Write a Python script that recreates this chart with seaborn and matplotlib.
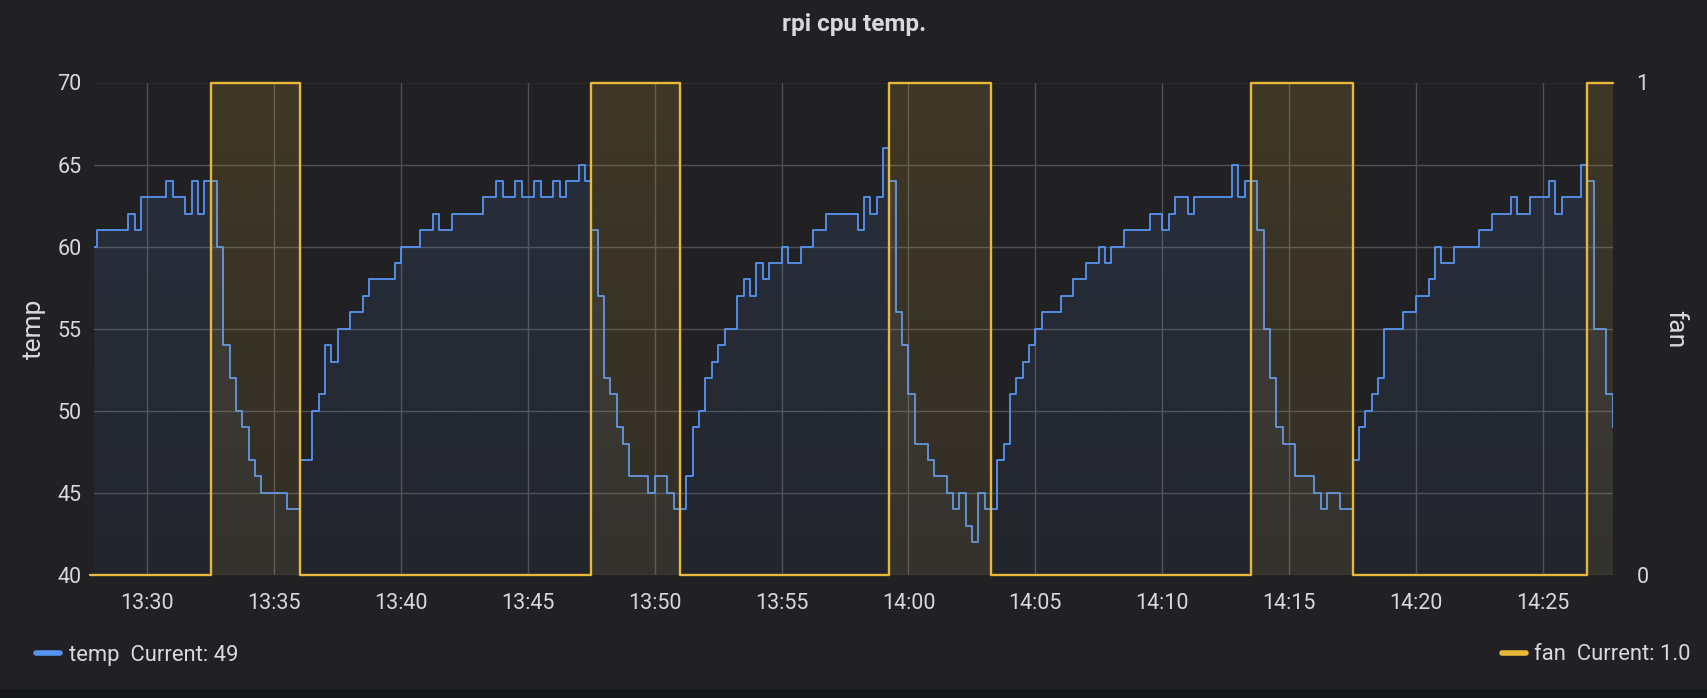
import matplotlib
matplotlib.use("Agg")
import matplotlib.pyplot as plt
import matplotlib.dates as mdates
from matplotlib.colors import to_rgb
from matplotlib.lines import Line2D
from matplotlib.patches import Rectangle
import seaborn as sns
import pandas as pd
import numpy as np

day = "2020-01-01 "

# temp: time of each change (15 s samples) and the value from that time on
temp_times = [
    "13:27:45", "13:28:00", "13:29:15", "13:29:30", "13:29:45", "13:30:45", "13:31:00", "13:31:30",
    "13:31:45", "13:32:00", "13:32:15", "13:32:45", "13:33:00", "13:33:15", "13:33:30", "13:33:45",
    "13:34:00", "13:34:15", "13:34:30", "13:35:30", "13:36:00", "13:36:30", "13:36:45", "13:37:00",
    "13:37:15", "13:37:30", "13:38:00", "13:38:30", "13:38:45", "13:39:45", "13:40:00", "13:40:45",
    "13:41:15", "13:41:30", "13:42:00", "13:43:15", "13:43:45", "13:44:00", "13:44:30", "13:44:45",
    "13:45:15", "13:45:30", "13:46:00", "13:46:15", "13:46:30", "13:47:00", "13:47:15", "13:47:30",
    "13:47:45", "13:48:00", "13:48:15", "13:48:30", "13:48:45", "13:49:00", "13:49:45", "13:50:00",
    "13:50:30", "13:50:45", "13:51:15", "13:51:30", "13:51:45", "13:52:00", "13:52:15", "13:52:30",
    "13:52:45", "13:53:15", "13:53:30", "13:53:45", "13:54:00", "13:54:15", "13:54:30", "13:55:00",
    "13:55:15", "13:55:45", "13:56:15", "13:56:45", "13:58:00", "13:58:15", "13:58:30", "13:58:45",
    "13:59:00", "13:59:15", "13:59:30", "13:59:45", "14:00:00", "14:00:15", "14:00:45", "14:01:00",
    "14:01:30", "14:01:45", "14:02:00", "14:02:15", "14:02:30", "14:02:45", "14:03:00", "14:03:30",
    "14:03:45", "14:04:00", "14:04:15", "14:04:30", "14:04:45", "14:05:00", "14:05:15", "14:06:00",
    "14:06:30", "14:07:00", "14:07:30", "14:07:45", "14:08:00", "14:08:30", "14:09:30", "14:10:00",
    "14:10:15", "14:10:30", "14:11:00", "14:11:15", "14:12:45", "14:13:00", "14:13:15", "14:13:45",
    "14:14:00", "14:14:15", "14:14:30", "14:14:45", "14:15:15", "14:16:00", "14:16:15", "14:16:30",
    "14:17:00", "14:17:30", "14:17:45", "14:18:00", "14:18:15", "14:18:30", "14:18:45", "14:19:30",
    "14:20:00", "14:20:30", "14:20:45", "14:21:00", "14:21:30", "14:22:30", "14:23:00", "14:23:45",
    "14:24:00", "14:24:30", "14:25:15", "14:25:30", "14:25:45", "14:26:30", "14:26:45", "14:27:00",
    "14:27:30", "14:27:45",
]
temp_values = [
    60, 61, 62, 61, 63, 64, 63, 62,
    64, 62, 64, 60, 54, 52, 50, 49,
    47, 46, 45, 44, 47, 50, 51, 54,
    53, 55, 56, 57, 58, 59, 60, 61,
    62, 61, 62, 63, 64, 63, 64, 63,
    64, 63, 64, 63, 64, 65, 64, 61,
    57, 52, 51, 49, 48, 46, 45, 46,
    45, 44, 46, 49, 50, 52, 53, 54,
    55, 57, 58, 57, 59, 58, 59, 60,
    59, 60, 61, 62, 61, 63, 62, 63,
    66, 64, 56, 54, 51, 48, 47, 46,
    45, 44, 45, 43, 42, 45, 44, 47,
    48, 51, 52, 53, 54, 55, 56, 57,
    58, 59, 60, 59, 60, 61, 62, 61,
    62, 63, 62, 63, 65, 63, 64, 61,
    55, 52, 49, 48, 46, 45, 44, 45,
    44, 47, 49, 50, 51, 52, 55, 56,
    57, 58, 60, 59, 60, 61, 62, 63,
    62, 63, 64, 62, 63, 65, 64, 55,
    51, 49,
]

# fan on/off switches
fan_times = ["13:27:45", "13:32:30", "13:36:00", "13:47:30", "13:51:00", "13:59:15",
             "14:03:15", "14:13:30", "14:17:30", "14:26:45", "14:27:45"]
fan_values = [0, 1, 0, 1, 0, 1, 0, 1, 0, 1, 1]

x_start = "13:27:54"
x_end = "14:27:46"
temp_ticks = [40, 45, 50, 55, 60, 65, 70]
fan_ticks = [0, 1]

BG = "#212124"
TEXT = "#d8d9da"
GRID = "#505053"
BLUE = "#5794f2"
YELLOW = "#eab839"

sns.set_theme(style="dark", rc={"axes.facecolor": BG, "figure.facecolor": BG,
                                "text.color": TEXT, "axes.labelcolor": TEXT,
                                "xtick.color": TEXT, "ytick.color": TEXT})
plt.rcParams["font.family"] = ["Roboto", "DejaVu Sans"]

temp = pd.DataFrame({"time": pd.to_datetime([day + t for t in temp_times]), "temp": temp_values})
fan = pd.DataFrame({"time": pd.to_datetime([day + t for t in fan_times]), "fan": fan_values})


def gradient_fill(a, x, y, base, color, a_top, a_bot):
    # area under a step series, fading from a_top at the top of the axes to a_bot at the bottom
    poly = a.fill_between(x, y, base, step="post", color="none", lw=0)
    grad = np.zeros((256, 1, 4))
    grad[..., :3] = to_rgb(color)
    grad[:, 0, 3] = np.linspace(a_top, a_bot, 256)
    x0, x1 = a.get_xlim()
    y0, y1 = a.get_ylim()
    im = a.imshow(grad, aspect="auto", extent=[x0, x1, y0, y1], origin="upper",
                  interpolation="bilinear", zorder=1.5)
    im.set_clip_path(poly.get_paths()[0], transform=a.transData)
    a.set_xlim(x0, x1)
    a.set_ylim(y0, y1)


W, H = 1708, 698
fig = plt.figure(figsize=(W / 100, H / 100), dpi=100)
ax = fig.add_axes([94 / W, 1 - 575 / H, 1519 / W, 492.5 / H])
ax2 = ax.twinx()

ax.set_xlim(pd.Timestamp(day + x_start), pd.Timestamp(day + x_end))
ax.set_ylim(40, 70)
ax2.set_ylim(0, 1)

# temp series
gradient_fill(ax, temp["time"], temp["temp"], 40, BLUE, 0.13, 0.04)
sns.lineplot(data=temp, x="time", y="temp", drawstyle="steps-post", color=BLUE, lw=1.3,
             ax=ax, legend=False)

# fan series on the right axis
gradient_fill(ax2, fan["time"], fan["fan"], 0, YELLOW, 0.15, 0.09)
sns.lineplot(data=fan, x="time", y="fan", drawstyle="steps-post", color=YELLOW, lw=1.7,
             ax=ax2, legend=False, clip_on=False)

ax.set_xlim(pd.Timestamp(day + x_start), pd.Timestamp(day + x_end))
ax.xaxis.set_major_locator(mdates.MinuteLocator(byminute=range(0, 60, 5)))
ax.xaxis.set_major_formatter(mdates.DateFormatter("%H:%M"))
ax.set_ylim(40, 70)
ax.set_yticks(temp_ticks)
ax2.set_ylim(0, 1)
ax2.set_yticks(fan_ticks)
ax2.set_yticklabels([str(v) for v in fan_ticks])

ax.grid(True, color=GRID, lw=1)
ax.set_axisbelow(True)
ax2.grid(False)
for a in (ax, ax2):
    for s in a.spines.values():
        s.set_visible(False)

ax.tick_params(axis="x", length=0, pad=13, labelsize=15.5)
ax.tick_params(axis="y", length=0, pad=9, labelsize=15.5)
ax2.tick_params(axis="y", length=0, pad=17, labelsize=15.5)

ax.set_xlabel("")
ax.set_ylabel("temp", fontsize=19, va="center", ha="center")
ax.yaxis.set_label_coords(-0.0395, 0.5)
ax2.set_ylabel("fan", fontsize=19, rotation=270, va="center", ha="center")
ax2.yaxis.set_label_coords(1.0408, 0.5)

fig.text(0.5, 1 - 24 / H, "rpi cpu temp.", ha="center", va="center",
         fontsize=17.5, fontweight="semibold", color=TEXT)

leg_y = 1 - 655 / H
fig.legend(handles=[Line2D([], [], color=BLUE, lw=4, solid_capstyle="round")],
           labels=["temp  Current: 49"],
           loc="center left", bbox_to_anchor=(36 / W, leg_y), frameon=False,
           borderpad=0, borderaxespad=0, handlelength=1.1, handletextpad=0.4,
           fontsize=15.8, labelcolor=TEXT)
fig.legend(handles=[Line2D([], [], color=YELLOW, lw=4, solid_capstyle="round")],
           labels=["fan  Current: 1.0"],
           loc="center right", bbox_to_anchor=(1691 / W, leg_y), frameon=False,
           borderpad=0, borderaxespad=0, handlelength=1.1, handletextpad=0.4,
           fontsize=15.8, labelcolor=TEXT)

fig.patches.append(Rectangle((0, 0), 1, 9 / H, transform=fig.transFigure,
                             color="#161719", zorder=0))

fig.savefig("out.png", dpi=100, facecolor=BG)
